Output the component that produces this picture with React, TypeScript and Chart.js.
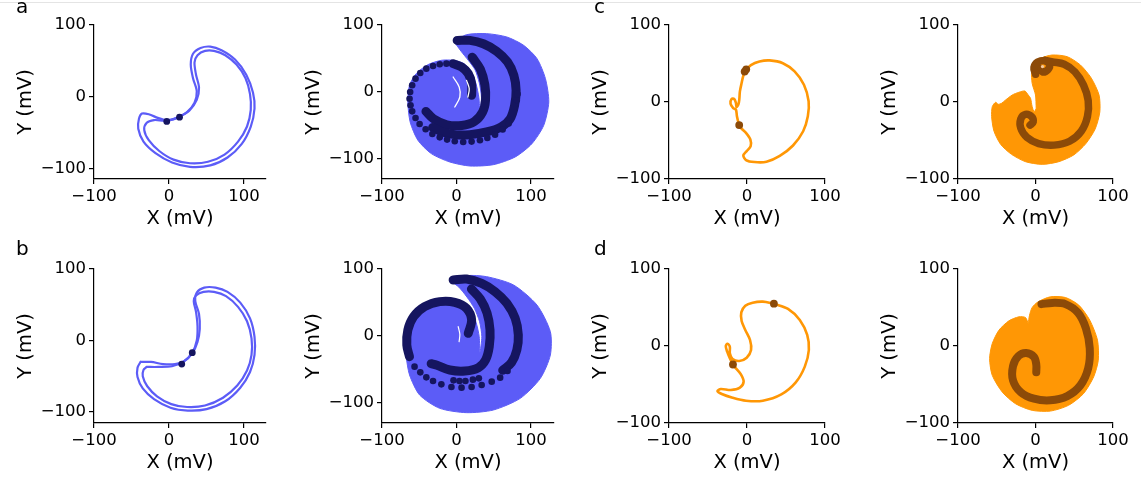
import React, { useEffect, useRef } from 'react';
import { Chart, registerables } from 'chart.js';

Chart.register(...registerables);

// ---------- styling constants ----------
const BLUE = '#5c5cf7';
const NAVY = '#15155f';
const ORANGE = '#ff9705';
const BROWN = '#8c4a08';

// ---------- axis text ----------
const tickValues = [-100, 0, 100];
const xTitle = 'X (mV)';
const yTitle = 'Y (mV)';
const panelLetters = ['a', 'b', 'c', 'd'];

type P = [number, number];

// ---------- panel a (top-left): two nested loops + dots ----------
const aOuterLoop: P[] = [[-3,-33],[10,-29],[24,-21],[34,-8],[37,8],[32,26],[29,45],[32,60],[42,68],[55,70],[70,65],[88,52],[103,31],[112,6],[114,-16],[109,-41],[97,-65],[78,-84],[55,-95],[28,-97],[4,-91],[-18,-78],[-34,-62],[-41,-44],[-40,-30],[-36,-23],[-27,-24],[-15,-29],[-3,-33]];
const aInnerLoop: P[] = [[13,-28],[27,-19],[37,-4],[40,13],[36,31],[34,48],[38,58],[48,64],[60,64],[75,58],[90,45],[102,26],[108,4],[109,-18],[104,-41],[92,-62],[74,-80],[52,-90],[28,-92],[6,-87],[-13,-75],[-27,-60],[-33,-46],[-30,-36],[-20,-32],[-7,-33],[3,-32],[13,-28]];
const aLoopDots: P[] = [[-3,-34],[14,-28]];

// ---------- panel a (top, 2nd): blue cloud + navy arms ----------
const aCloud: P[] = [[-3.6,75.6],[13.5,85.6],[40.5,87.1],[67.6,82.1],[90.1,69.7],[108.1,49.8],[119.4,19.9],[123.9,-14.9],[117.1,-49.8],[101.3,-77.1],[78.8,-97],[49.5,-108.5],[18,-110.5],[-9,-104.5],[-33.8,-92],[-51.8,-72.1],[-62.2,-44.8],[-65.3,-14.9],[-63.1,10],[-54.1,27.4],[-38.3,40.8],[-20.3,47.3],[-4.5,47.3],[9,43],[19,32],[26,13],[30,-8],[31.5,-28.9],[33.5,-8],[30.5,14],[25,33],[16,47],[6,61],[-3.6,75.6]];
const aArmOuter: P[] = [[0.9,77],[18,77],[36,72],[54,60.7],[68.5,44.8],[77,25],[80,2.5],[78,-20],[72,-40],[60,-52],[40.5,-59.7],[18,-63.7],[0,-64],[-18,-60],[-32,-53]];
const aArmInner: P[] = [[21,52],[32,34],[38,11],[39,-12],[35,-30],[24,-44],[7,-50],[-13,-49],[-31,-40],[-41,-29]];
const aArmLeft: P[] = [[20.3,-5],[20.3,12.4],[15.8,27.4],[6.8,37.3],[-4.5,42.3]];
const aRingDots: P[] = [[-13.5,42.3],[-22.5,41.3],[-31.5,38.8],[-40.5,34.8],[-48.6,28.4],[-55,19.9],[-59.5,10],[-62.2,0],[-63,-10],[-61.7,-19.9],[-59.5,-28.9],[-55,-38.8],[-49.5,-47.8],[-41.4,-55.7],[-32.4,-62.7],[-22.5,-67.7],[-12.6,-71.1],[-2.3,-73.6],[9,-74.6],[20.3,-74.1],[31.5,-72.1],[41.4,-68.7],[51.8,-63.7],[62,-56],[70,-47],[81,-12],[82,-3]];
const aGapArc1: P[] = [[-4.5,22.4],[3.6,7.5],[4.5,-7.5],[-2.3,-22.4]];
const aGapArc2: P[] = [[13.5,17.4],[17.1,5],[15.3,-7.5]];

// ---------- panel b (bottom-left): two nested loops + dots ----------
const bOuterLoop: P[] = [[-38,-30],[-24,-30],[-8,-33],[8,-33],[20,-29],[31,-18],[38,-2],[41,16],[40,37],[35,55],[37,67],[47,74],[62,74],[78,68],[95,53],[108,31],[114,5],[114,-20],[108,-44],[95,-66],[75,-85],[50,-96],[25,-98],[2,-94],[-20,-82],[-35,-67],[-42,-51],[-42,-38],[-38,-30]];
const bInnerLoop: P[] = [[-30,-37],[-14,-37],[4,-36],[19,-30],[31,-17],[37,0],[38,20],[36,40],[33,55],[36,63],[46,68],[60,68],[76,62],[92,47],[104,27],[110,3],[110,-20],[104,-42],[91,-63],[72,-80],[48,-91],[24,-93],[3,-89],[-16,-78],[-29,-64],[-35,-50],[-34,-41],[-30,-37]];
const bLoopDots: P[] = [[17,-33],[31,-17]];

// ---------- panel b (bottom, 2nd): blue cloud + navy arms ----------
const bCloud: P[] = [[-6.8,81],[13.5,90],[40.5,88.5],[76.6,76],[108,46],[126,6],[126,-29],[112.6,-64],[85.6,-94],[49.5,-111.5],[13.5,-115.5],[-22.5,-109],[-49.5,-89],[-63,-59],[-67.6,-29],[-66.7,1],[-58.6,26],[-40.5,43.5],[-22.5,50],[-9,53.5],[6.8,51],[19,39],[26.5,19],[30.5,-1.5],[31.5,-25],[34,-1.5],[31,21],[24,41],[14,58],[3,73],[-6.8,81]];
const bArmOuter: P[] = [[-4.5,83.5],[13.5,85],[33.8,78.5],[51.8,66],[67.6,48.5],[78.8,26],[83,1],[81,-21.5],[74,-40],[62,-52]];
const bArmInner: P[] = [[20,70],[32,55],[41,34],[45,8.5],[44,-16.5],[39,-36.5],[29.3,-48],[11.3,-53],[-9,-51.5],[-27,-44],[-34,-42]];
const bArmLeft: P[] = [[15.8,3.5],[20.3,23.5],[13.5,41],[-2.3,50],[-22.5,51],[-42.8,43.5],[-57.6,28.5],[-65.3,8.5],[-66.7,-14],[-63.1,-31.5]];
const bRingDots: P[] = [[-56.3,-46.5],[-48.6,-55],[-40.5,-62.5],[-31.5,-68],[-20.3,-73],[-6.8,-77],[6.8,-78],[20.3,-77],[33.8,-74],[47.3,-69],[58.6,-63],[68.5,-53]];
const bMidDots: P[] = [[-4,-67],[4,-68],[12,-68],[22,-66],[30,-64]];
const bGapArc: P[] = [[2.3,13.5],[4.5,2],[3.5,-9]];

// ---------- panel c (top, 3rd): orange trajectory ----------
const cTrajectory: P[] = [[-2,41],[5,48],[16,52.6],[29,54],[46,50.4],[61,39.7],[73,22.4],[79,1],[78,-18.5],[72,-38],[59,-56.5],[42,-70],[25,-77.6],[9.5,-78],[-1.3,-75.4],[-4.7,-69.4],[-0.4,-63.8],[4.7,-57.3],[4.3,-48.7],[-1.3,-40.1],[-7.8,-33.6],[-10.8,-27.2],[-12.9,-18.5],[-14.2,-9.9],[-17.7,-7.8],[-21.1,-2.2],[-19.8,3.9],[-16.4,3.9],[-14.2,-1.3],[-13.4,-6.5],[-11,-3],[-9.9,3],[-9.1,13.8],[-6.9,24.6],[-4.7,34.1],[-2,41]];
const cTrajDots: P[] = [[-3,39.5],[-1,42.5],[-10,-30]];

// ---------- panel c (top, 4th): orange cloud + brown arm ----------
const cCloud: P[] = [[0.9,-8.2],[0,9.1],[-4.3,24.2],[-5.1,39.4],[-2.1,50.2],[6.4,56.7],[21.4,61],[40.8,58.9],[57.9,48.1],[72,31],[82,9],[83,-13],[77,-35],[65,-54],[49.3,-68.8],[30,-77.5],[8.6,-81],[-12.9,-77.5],[-30.9,-68],[-45,-55],[-53.6,-37.7],[-56.6,-19.1],[-55.8,-6.1],[-51.5,-0.4],[-48,-3],[-43.8,-1.7],[-38.6,2.6],[-30,9.1],[-21.5,12.6],[-13.7,14.3],[-9.4,9.1],[-6.4,4.8],[-4.3,-6.1],[-1.7,-12.6],[0.9,-8.2]];
const cArm: P[] = [[0,36],[-2,45],[3,52],[12,54],[22,52],[37,49],[51,39],[62,22],[68,2],[67,-19],[59,-38],[44,-51],[24,-56],[4,-54],[-11,-46],[-19,-34],[-19,-22],[-13,-16],[-5,-19],[-3,-26],[-7,-30]];
const cCurl: P[] = [[12,54],[18,49],[16,42],[9,39],[5,44]];
const cCurlHole: P[] = [[9,46]];

// ---------- panel d (bottom, 3rd): orange trajectory ----------
const dTrajectory: P[] = [[34.5,55],[52.6,48.1],[67.7,33.8],[77.2,14.3],[79.3,-5.2],[74.1,-26.8],[62.5,-47.2],[44,-62.8],[20.3,-71],[-1.3,-71],[-18.5,-67.1],[-32.3,-62.3],[-37.9,-58.4],[-33.6,-55.8],[-20.7,-57.1],[-9.1,-54.1],[-4.3,-46.3],[-7.8,-36.8],[-14.2,-29],[-18.1,-23.8],[-22,-16],[-25.4,-7.4],[-27.2,0],[-25,3],[-22,-0.9],[-22,-9.5],[-18.5,-16.9],[-9.9,-19.5],[-0.4,-15.2],[5.2,-5.2],[3.9,7.8],[-2.2,20.8],[-6.9,32.5],[-7.3,43.7],[-2.2,52.4],[7.3,56.3],[20.3,57.6],[34.5,55]];
const dTrajDots: P[] = [[34.5,55],[-18,-24]];

// ---------- panel d (bottom, 4th): orange cloud + brown arm ----------
const dCloud: P[] = [[-9.4,29.2],[-7.7,40],[-4.3,50],[3.4,57.4],[19.3,63.9],[38.6,63],[55.8,53.1],[70,33.6],[80,7.6],[81,-18.5],[75,-40.2],[61.8,-62],[42.5,-77.1],[19.3,-84.5],[-4.3,-83.6],[-25.7,-75],[-42.9,-59.8],[-55.8,-38.1],[-59.2,-16.4],[-55.8,3.1],[-47.2,20.5],[-34.3,32.7],[-21.4,37.9],[-12.9,37],[-9.4,29.2]];
const dArm: P[] = [[7.7,54.4],[21.5,56],[38.6,54.4],[55,43],[65,23],[70,-3],[68,-29],[58,-51],[41,-65],[19,-70.5],[-2,-68.4],[-19,-60],[-29,-44.5],[-29,-26],[-22,-13],[-12,-9],[-2,-14],[1,-24],[1,-34]];

// ---------- helpers ----------
const pts = (a: P[]) => a.map(([x, y]) => ({ x, y }));

function lineDs(data: P[], color: string, width: number, order: number, tension = 0.35) {
  return {
    data: pts(data), showLine: true, borderColor: color, borderWidth: width,
    pointRadius: 0, pointHoverRadius: 0, fill: false, tension,
    borderCapStyle: 'round', borderJoinStyle: 'round', order,
  };
}
function fillDs(data: P[], color: string, order: number) {
  return {
    data: pts(data), showLine: true, borderColor: color, borderWidth: 1,
    backgroundColor: color, fill: 'shape', pointRadius: 0, pointHoverRadius: 0,
    tension: 0.25, order,
  };
}
function dotDs(data: P[], color: string, r: number, order: number) {
  return {
    data: pts(data), showLine: false, pointRadius: r, pointHoverRadius: r,
    pointBackgroundColor: color, pointBorderColor: color, pointBorderWidth: 0, order,
  };
}

const fmt = (v: number) => (v < 0 ? '\u2212' + Math.abs(v) : String(v));

const TICK_SIZE = 16.5;
const TITLE_SIZE = 19.5;
const WY = 80;
const HX = 52;
const PAD_T = 12;
const PAD_R = 22;

function axisOpts(axis: 'x' | 'y', min: number, max: number) {
  return {
    type: 'linear', min, max,
    position: axis === 'x' ? 'bottom' : 'left',
    afterBuildTicks: (s: any) => { s.ticks = tickValues.map((v) => ({ value: v })); },
    afterFit: (s: any) => {
      if (axis === 'x') { s.height = HX; s.paddingLeft = 0; s.paddingRight = 0; }
      else { s.width = WY; s.paddingTop = 0; s.paddingBottom = 0; }
    },
    grid: { display: true, drawOnChartArea: false, drawTicks: true, tickLength: 5, tickWidth: 1.2, tickColor: '#000', color: '#000', lineWidth: 1.2 },
    border: { display: true, color: '#000', width: 1.2 },
    ticks: {
      color: '#000', font: { family: 'DejaVu Sans', size: TICK_SIZE }, padding: 3,
      maxRotation: 0, autoSkip: false, callback: (v: any) => fmt(Number(v)),
    },
    title: {
      display: true, text: axis === 'x' ? xTitle : yTitle, color: '#000',
      font: { family: 'DejaVu Sans', size: TITLE_SIZE }, padding: 0,
    },
  };
}

interface Spec { L: number; T: number; R: number; B: number; xMin: number; xMax: number; yMin: number; yMax: number; datasets: any[]; }

const COL = [
  { L: 94, R: 266, xMin: -100, xMax: 129.3 },
  { L: 382, R: 554, xMin: -100, xMax: 130.9 },
  { L: 669, R: 825, xMin: -100, xMax: 100 },
  { L: 958, R: 1113, xMin: -100, xMax: 100 },
];
const ROW = [{ T: 25, B: 179 }, { T: 269, B: 423 }];

const specs: Spec[] = [
  { ...COL[0], ...ROW[0], yMin: -113.9, yMax: 100, datasets: [
    lineDs(aOuterLoop, BLUE, 2.2, 3, 0.3), lineDs(aInnerLoop, BLUE, 2.2, 2, 0.3), dotDs(aLoopDots, NAVY, 3.4, 1)] },
  { ...COL[1], ...ROW[0], yMin: -129.9, yMax: 100, datasets: [
    fillDs(aCloud, BLUE, 9),
    lineDs(aArmOuter, NAVY, 9, 5), lineDs(aArmInner, NAVY, 9, 5), lineDs(aArmLeft, NAVY, 9, 5),
    dotDs(aRingDots, NAVY, 3.3, 4),
    lineDs(aGapArc1, '#ffffff', 1.3, 1), lineDs(aGapArc2, '#ffffff', 1.3, 1)] },
  { ...COL[2], ...ROW[0], yMin: -100, yMax: 100, datasets: [
    lineDs(cTrajectory, ORANGE, 2.6, 3, 0.3), dotDs(cTrajDots, BROWN, 3.9, 1)] },
  { ...COL[3], ...ROW[0], yMin: -100, yMax: 100, datasets: [
    fillDs(cCloud, ORANGE, 9), lineDs(cArm, BROWN, 7.5, 5), lineDs(cCurl, BROWN, 7.5, 5), dotDs(cCurlHole, '#f3c9a0', 1.6, 1)] },
  { ...COL[0], ...ROW[1], yMin: -115.4, yMax: 100, datasets: [
    lineDs(bOuterLoop, BLUE, 2.2, 3, 0.3), lineDs(bInnerLoop, BLUE, 2.2, 2, 0.3), dotDs(bLoopDots, NAVY, 3.4, 1)] },
  { ...COL[1], ...ROW[1], yMin: -131, yMax: 100, datasets: [
    fillDs(bCloud, BLUE, 9),
    lineDs(bArmOuter, NAVY, 9, 5), lineDs(bArmInner, NAVY, 9, 5), lineDs(bArmLeft, NAVY, 9, 5),
    dotDs(bRingDots, NAVY, 3.3, 4), dotDs(bMidDots, NAVY, 3.3, 4),
    lineDs(bGapArc, '#ffffff', 1.2, 1)] },
  { ...COL[2], ...ROW[1], yMin: -100, yMax: 100, datasets: [
    lineDs(dTrajectory, ORANGE, 2.6, 3, 0.3), dotDs(dTrajDots, BROWN, 3.9, 1)] },
  { ...COL[3], ...ROW[1], yMin: -100, yMax: 100, datasets: [
    fillDs(dCloud, ORANGE, 9), lineDs(dArm, BROWN, 8, 5)] },
];

function Panel({ spec }: { spec: Spec }) {
  const ref = useRef<HTMLCanvasElement>(null);
  const w = spec.R - spec.L + WY + PAD_R;
  const h = spec.B - spec.T + PAD_T + HX;
  useEffect(() => {
    const chart = new Chart(ref.current as HTMLCanvasElement, {
      type: 'scatter',
      data: { datasets: spec.datasets as any },
      options: {
        animation: false, responsive: false, devicePixelRatio: 1, events: [],
        layout: { padding: { top: PAD_T, right: PAD_R, left: 0, bottom: 0 } },
        plugins: { legend: { display: false }, tooltip: { enabled: false } },
        scales: {
          x: axisOpts('x', spec.xMin, spec.xMax) as any,
          y: axisOpts('y', spec.yMin, spec.yMax) as any,
        },
      },
    });
    return () => chart.destroy();
  }, []);
  return (
    <canvas ref={ref} width={w} height={h}
      style={{ position: 'absolute', left: spec.L - WY, top: spec.T - PAD_T, width: w, height: h }} />
  );
}

const letterPos = [
  { left: 16, top: -4 },
  { left: 16, top: 238 },
  { left: 594, top: -4 },
  { left: 594, top: 238 },
];

export default function App() {
  return (
    <div style={{ position: 'absolute', left: 0, top: 0, width: 1141, height: 481, background: '#fff', overflow: 'hidden' }}>
      <div style={{ position: 'absolute', left: 0, top: 2, width: 1141, height: 1, background: '#e4e4e4' }} />
      {specs.map((s, i) => <Panel key={i} spec={s} />)}
      {panelLetters.map((t, i) => (
        <div key={t} style={{ position: 'absolute', left: letterPos[i].left, top: letterPos[i].top, fontFamily: 'DejaVu Sans', fontSize: 20, lineHeight: '20px', color: '#000' }}>{t}</div>
      ))}
    </div>
  );
}
